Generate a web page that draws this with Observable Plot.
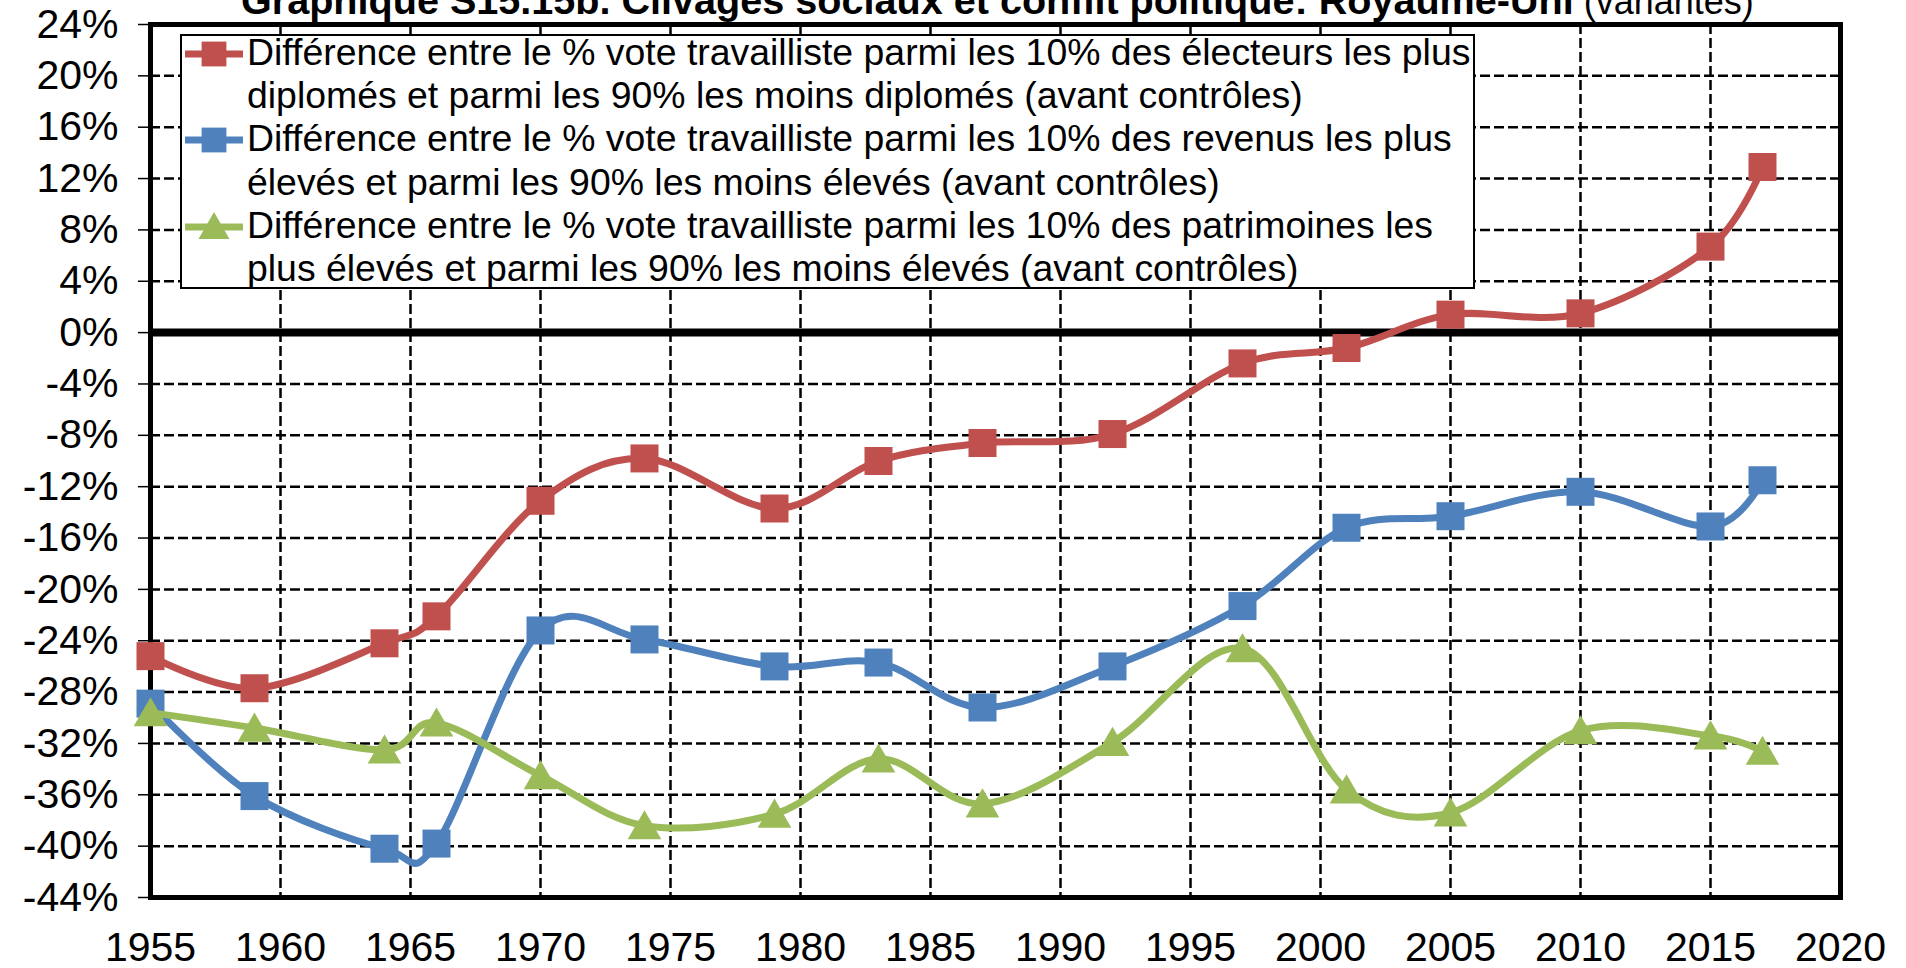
<!DOCTYPE html>
<html>
<head>
<meta charset="utf-8">
<script src="https://cdn.jsdelivr.net/npm/d3@7"></script>
<script src="https://cdn.jsdelivr.net/npm/@observablehq/plot@0.6"></script>
<style>
html, body { margin: 0; padding: 0; background: #fff; overflow: hidden; }
#wrap { position: relative; width: 1906px; height: 968px; font-family: "Liberation Sans", Arial, sans-serif; color: #000; }
#title { position: absolute; left: 241px; top: -19px; white-space: nowrap; line-height: 38px; }
#title .main { font-weight: bold; font-size: 39.6px; }
#title .sub { font-weight: normal; font-size: 36px; margin-left: 10px; }
#legend { position: absolute; left: 180px; top: 34px; width: 1291px; height: 251px; border: 2px solid #000; background: #fff; box-sizing: content-box; }
#legend .entries { margin-top: -5px; }
#legend .entry { position: relative; padding-left: 65px; font-size: 37.4px; line-height: 43.2px; white-space: nowrap; }
#legend .entry svg { position: absolute; left: 3px; top: 8px; }
</style>
</head>
<body>
<div id="wrap">
  <div id="chart"></div>
  <div id="title"></div>
  <div id="legend"><div class="entries"></div></div>
</div>
<script>
// ---- Data ----
const years = [1955, 1959, 1964, 1966, 1970, 1974, 1979, 1983, 1987, 1992, 1997, 2001, 2005, 2010, 2015, 2017];
const diplomes  = [-25.2, -27.7, -24.2, -22.1, -13.1, -9.8, -13.7, -10.0, -8.6, -7.9, -2.4, -1.2, 1.4, 1.5, 6.7, 12.9];
const revenus   = [-28.9, -36.1, -40.2, -39.8, -23.2, -23.9, -26.0, -25.7, -29.2, -26.0, -21.3, -15.2, -14.3, -12.4, -15.1, -11.5];
const patrimoine = [-29.6, -30.8, -32.5, -30.4, -34.5, -38.4, -37.5, -33.2, -36.7, -31.9, -24.6, -35.6, -37.4, -31.0, -31.4, -32.6];

const yTicks = [-44, -40, -36, -32, -28, -24, -20, -16, -12, -8, -4, 0, 4, 8, 12, 16, 20, 24];
const xTicks = [1955, 1960, 1965, 1970, 1975, 1980, 1985, 1990, 1995, 2000, 2005, 2010, 2015, 2020];

const titleMain = "Graphique S15.15b. Clivages sociaux et conflit politique: Royaume-Uni";
const titleSub = "(variantes)";

const legendLabels = [
  ["Différence entre le % vote travailliste parmi les 10% des électeurs les plus", "diplomés et parmi les 90% les moins diplomés (avant contrôles)"],
  ["Différence entre le % vote travailliste parmi les 10% des revenus les plus", "élevés et parmi les 90% les moins élevés (avant contrôles)"],
  ["Différence entre le % vote travailliste parmi les 10% des patrimoines les", "plus élevés et parmi les 90% les moins élevés (avant contrôles)"]
];
const colors = ["#C0504D", "#4F81BD", "#9BBB59"];
const symbols = ["square", "square", "triangle"];
const seriesValues = [diplomes, revenus, patrimoine];

// ---- Build ----
const rows = seriesValues.map((vals, s) => years.map((yr, i) => ({year: yr, value: vals[i], s})));

const seriesMarks = rows.flatMap((data, s) => [
  Plot.line(data, {x: "year", y: "value", stroke: colors[s], strokeWidth: 7, curve: "cardinal", tension: 0, strokeLinecap: "round", strokeLinejoin: "round"}),
  Plot.dot(data, {x: "year", y: "value", symbol: symbols[s], r: symbols[s] === "square" ? 15.8 : 12.5, fill: colors[s], stroke: "none", dy: symbols[s] === "triangle" ? 4 : 0})
]);

const chart = Plot.plot({
  width: 1906,
  height: 968,
  marginLeft: 150,
  marginRight: 66,
  marginTop: 24,
  marginBottom: 71,
  style: {fontFamily: "'Liberation Sans', Arial, sans-serif", fontSize: "41px", color: "#000", background: "#fff", overflow: "visible"},
  x: {domain: [1955, 2020]},
  y: {domain: [-44, 24]},
  marks: [
    Plot.ruleY(yTicks.filter(d => d !== 0 && d !== 24 && d !== -44), {stroke: "#000", strokeWidth: 2.5, strokeDasharray: "10,4"}),
    Plot.ruleX(xTicks.filter(d => d > 1955 && d < 2020), {stroke: "#000", strokeWidth: 2.5, strokeDasharray: "10,4"}),
    Plot.ruleY([0], {stroke: "#000", strokeWidth: 8}),
    Plot.frame({stroke: "#000", strokeWidth: 5}),
    Plot.axisY({ticks: yTicks, tickFormat: d => d + "%", tickSize: 12, tickPadding: 20, fontSize: 41, label: null, stroke: "#000", strokeWidth: 1.5}),
    Plot.axisX({ticks: xTicks, tickFormat: d => String(d), tickSize: 0, tickPadding: 34, fontSize: 41, label: null}),
    ...seriesMarks
  ]
});
document.getElementById("chart").appendChild(chart);

// Title
const t = document.getElementById("title");
t.innerHTML = `<span class="main"></span><span class="sub"></span>`;
t.querySelector(".main").textContent = titleMain;
t.querySelector(".sub").textContent = titleSub;

// Legend
const entries = document.querySelector("#legend .entries");
legendLabels.forEach((lines, s) => {
  const div = document.createElement("div");
  div.className = "entry";
  const ns = "http://www.w3.org/2000/svg";
  const svg = document.createElementNS(ns, "svg");
  svg.setAttribute("width", 58); svg.setAttribute("height", 30);
  const ln = document.createElementNS(ns, "line");
  ln.setAttribute("x1", 0); ln.setAttribute("x2", 58); ln.setAttribute("y1", 15); ln.setAttribute("y2", 15);
  ln.setAttribute("stroke", colors[s]); ln.setAttribute("stroke-width", 7);
  svg.appendChild(ln);
  const mk = document.createElementNS(ns, "path");
  const size = symbols[s] === "square" ? Math.PI * 14 * 14 : Math.PI * 11.5 * 11.5;
  mk.setAttribute("d", d3.symbol(symbols[s] === "square" ? d3.symbolSquare : d3.symbolTriangle, size)());
  mk.setAttribute("transform", `translate(29,${symbols[s] === "triangle" ? 18 : 15})`);
  mk.setAttribute("fill", colors[s]);
  svg.appendChild(mk);
  div.appendChild(svg);
  lines.forEach((l, i) => {
    if (i) div.appendChild(document.createElement("br"));
    div.appendChild(document.createTextNode(l));
  });
  entries.appendChild(div);
});
</script>
</body>
</html>
